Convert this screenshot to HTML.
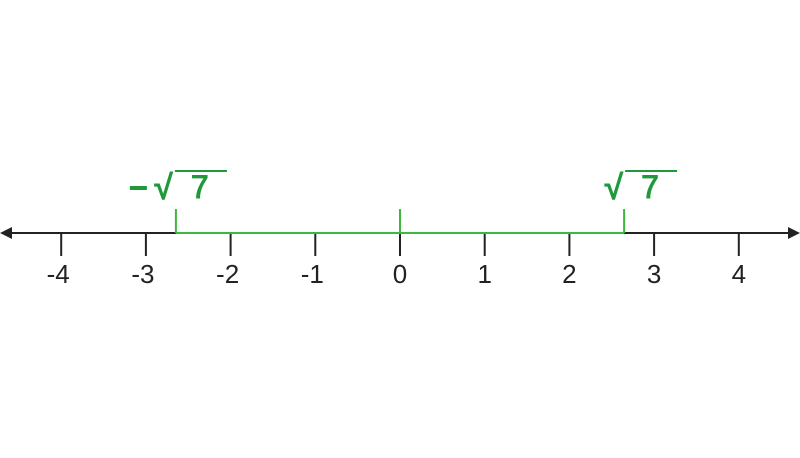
<!DOCTYPE html>
<html><head><meta charset="utf-8"><style>
body{margin:0;background:#fff}
svg{display:block}
</style></head><body>
<svg width="800" height="458" viewBox="0 0 800 458" font-family="Liberation Sans, sans-serif">
<g id="g"></g>
</svg>
<script>
const ticks=[-4,-3,-2,-1,0,1,2,3,4];
const tickLabels=["-4","-3","-2","-1","0","1","2","3","4"];
const rangeStart=[-Math.sqrt(7)];
const rangeEnd=[Math.sqrt(7)];
const greenTicks=[-Math.sqrt(7),0,Math.sqrt(7)];
const ns="http://www.w3.org/2000/svg";
const g=document.getElementById('g');
const X=v=>400+v*84.7;
const Y=233;
function mk(t,a,p){const e=document.createElementNS(ns,t);for(const k in a)e.setAttribute(k,a[k]);(p||g).appendChild(e);return e;}
let ax=mk('line',{x1:8,y1:Y,x2:792,y2:Y,stroke:'#222','stroke-width':2});


let al=mk('polygon',{points:`0,${Y} 12,${Y-6} 12,${Y+6}`,fill:'#222'});


let ar=mk('polygon',{points:`800,${Y} 788,${Y-6} 788,${Y+6}`,fill:'#222'});


ticks.forEach((v,i)=>{
 let t=mk('line',{x1:X(v),y1:Y,x2:X(v),y2:Y+23,stroke:'#222','stroke-width':2});
 
 
 let l=mk('text',{x:X(v)+(v<0?-3:0),y:283,'text-anchor':'middle','font-size':26,fill:'#222'});
 l.textContent=tickLabels[i];
 
 
});
let seg=mk('line',{x1:X(rangeStart[0]),y1:Y,x2:X(rangeEnd[0]),y2:Y,stroke:'#3cb93c','stroke-width':2});


greenTicks.forEach(v=>{
 let t=mk('line',{x1:X(v),y1:Y,x2:X(v),y2:Y-24,stroke:'#3cb93c','stroke-width':2});
 
 
});
[rangeStart[0],rangeEnd[0]].forEach((v,i)=>{
 const neg=i===0;
 const x=X(v);
 const grp=mk('g',{});
 
 
 const rx=neg?x-22:x-20;
 if(neg){let m=mk('rect',{x:x-46,y:186,width:17,height:4,fill:'#1f9a3a'},grp);}
 let s=mk('text',{x:rx,y:199,'font-size':34,fill:'#1f9a3a',stroke:'#1f9a3a','stroke-width':1.2},grp);s.textContent='√';
 let sv=mk('text',{x:rx+37,y:198,'font-size':32,fill:'#1f9a3a',stroke:'#1f9a3a','stroke-width':1},grp);sv.textContent='7';
 mk('line',{x1:rx+21,y1:171,x2:rx+73,y2:171,stroke:'#1f9a3a','stroke-width':2},grp);
});
</script>
</body></html>
